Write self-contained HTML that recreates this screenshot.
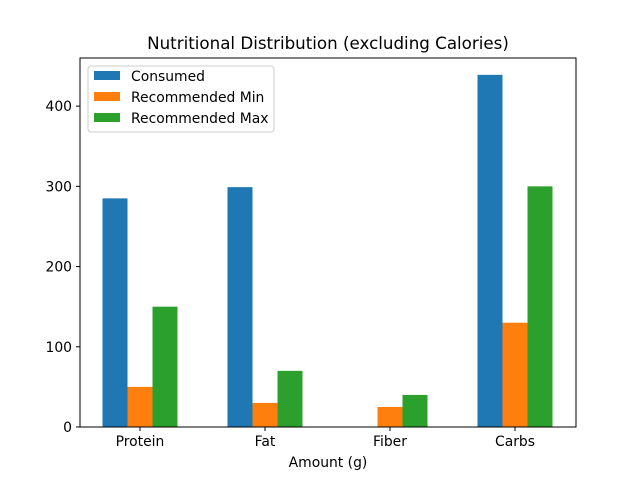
<!DOCTYPE html>
<html><head><meta charset="utf-8"><style>body{margin:0;background:#fff}svg{font-family:"DejaVu Sans","Liberation Sans",sans-serif}</style></head>
<body>
<svg id="chart" width="640" height="480">
<rect width="640" height="480" fill="#fff"/>
<text x="328" y="49" font-size="16.7" text-anchor="middle">Nutritional Distribution (excluding Calories)</text>
<g id="bars"></g>
<rect x="80" y="58" width="496" height="369" fill="none" stroke="#000" stroke-width="1"/>
<g id="axes"></g>
<text x="328" y="467" font-size="13.9" text-anchor="middle">Amount (g)</text>
<g>
<rect x="88" y="66" width="186" height="66" rx="3" fill="#fff" fill-opacity="0.8" stroke="#ccc"/>
<g><rect x="94" y="71" width="26" height="9" fill="#1f77b4"/><text x="131" y="81" font-size="13.9">Consumed</text></g>
<g><rect x="94" y="92" width="26" height="9" fill="#ff7f0e"/><text x="131" y="102" font-size="13.9">Recommended Min</text></g>
<g><rect x="94" y="113" width="26" height="9" fill="#2ca02c"/><text x="131" y="123" font-size="13.9">Recommended Max</text></g>
</g>
</svg>
<script>
const categories = ["Protein","Fat","Fiber","Carbs"];
const consumed = [285,299,0,439];
const recMin = [50,30,25,130];
const recMax = [150,70,40,300];
const yTicks = [0,100,200,300,400];
const seriesNames = ["consumed","recommended-min","recommended-max"];
const NS="http://www.w3.org/2000/svg";
const y = v => 427 - v*(369/460);
const x = i => 140 + i*125;
const bars=document.getElementById('bars'), axes=document.getElementById('axes');
const colors=["#1f77b4","#ff7f0e","#2ca02c"];
[consumed,recMin,recMax].forEach((s,k)=>{
  s.forEach((v,i)=>{
    const r=document.createElementNS(NS,'rect');
    r.setAttribute('x', x(i)-37.5+k*25);
    r.setAttribute('y', y(v));
    r.setAttribute('width', 25);
    r.setAttribute('height', y(0)-y(v));
    r.setAttribute('fill', colors[k]);
    
    
    bars.appendChild(r);
  });
});
yTicks.forEach(t=>{
  const l=document.createElementNS(NS,'line');
  l.setAttribute('x1',76);l.setAttribute('x2',80);l.setAttribute('y1',y(t));l.setAttribute('y2',y(t));l.setAttribute('stroke','#000');
  axes.appendChild(l);
  const tx=document.createElementNS(NS,'text');
  tx.setAttribute('x',72);tx.setAttribute('y',y(t)+5);tx.setAttribute('font-size','13.9');tx.setAttribute('text-anchor','end');
  tx.textContent=t;
  
  
  axes.appendChild(tx);
});
categories.forEach((c,i)=>{
  const l=document.createElementNS(NS,'line');
  l.setAttribute('x1',x(i));l.setAttribute('x2',x(i));l.setAttribute('y1',427);l.setAttribute('y2',431);l.setAttribute('stroke','#000');
  axes.appendChild(l);
  const tx=document.createElementNS(NS,'text');
  tx.setAttribute('x',x(i));tx.setAttribute('y',446);tx.setAttribute('font-size','13.9');tx.setAttribute('text-anchor','middle');
  tx.textContent=c;
  
  
  axes.appendChild(tx);
});
</script>
</body></html>
